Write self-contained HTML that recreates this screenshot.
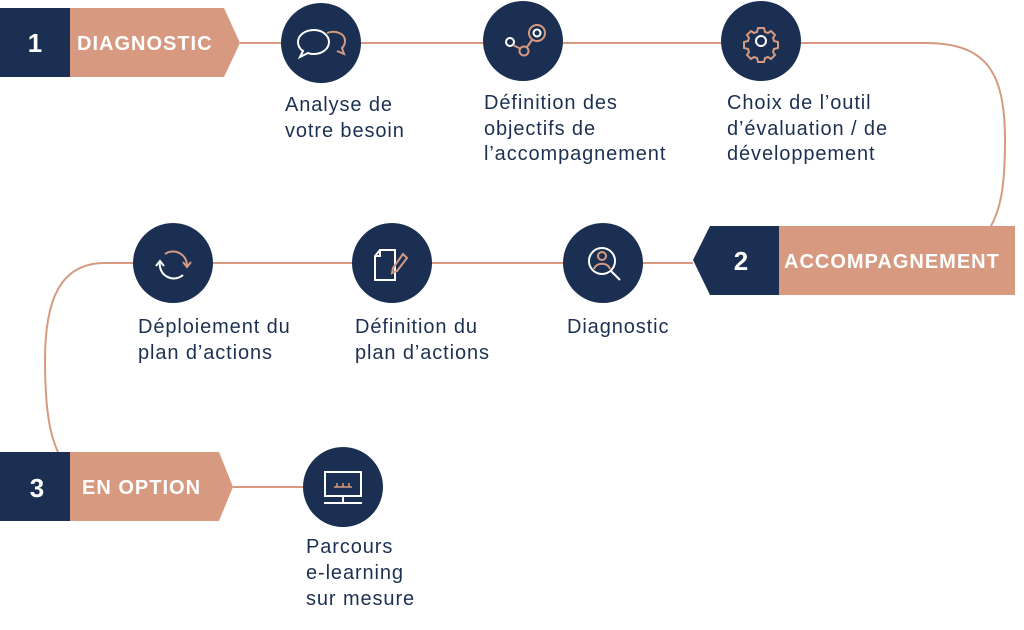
<!DOCTYPE html>
<html><head><meta charset="utf-8"><style>
html,body{margin:0;padding:0;background:#fff;}
svg{display:block}
text{font-family:"Liberation Sans",sans-serif}
.lbl{font-size:20px;fill:#1c3152;letter-spacing:0.9px}
.hd{font-size:20px;font-weight:bold;fill:#fff;letter-spacing:1px}
.num{font-size:26px;font-weight:bold;fill:#fff}
</style></head><body>
<svg width="1024" height="630" viewBox="0 0 1024 630" xmlns="http://www.w3.org/2000/svg">
<g fill="none" stroke="#d79a80" stroke-width="2">
<path d="M240 43 H925 C985 43 1005 70 1005 140 C1005 190 1000 210 990 228"/>
<path d="M693 263 H105 C60 263 45 300 45 360 C45 410 50 435 58 452"/>
<path d="M233 487 H305"/>
</g>
<rect x="0" y="8" width="70" height="69" fill="#1a2f52"/>
<polygon points="70,8 224,8 240,43 224,77 70,77" fill="#d79a80"/>
<text x="35" y="52" class="num" text-anchor="middle">1</text>
<text x="77" y="50" class="hd">DIAGNOSTIC</text>
<polygon points="710,226 779,226 779,295 710,295 693,260" fill="#1a2f52"/>
<rect x="779" y="226" width="236" height="69" fill="#d79a80"/>
<text x="741" y="270" class="num" text-anchor="middle">2</text>
<text x="784" y="268" class="hd">ACCOMPAGNEMENT</text>
<rect x="0" y="452" width="70" height="69" fill="#1a2f52"/>
<polygon points="70,452 219,452 233,487 219,521 70,521" fill="#d79a80"/>
<text x="37" y="497" class="num" text-anchor="middle">3</text>
<text x="82" y="494" class="hd">EN OPTION</text>
<g fill="#1a2f52">
<circle cx="321" cy="43" r="40"/>
<circle cx="523" cy="41" r="40"/>
<circle cx="761" cy="41" r="40"/>
<circle cx="603" cy="263" r="40"/>
<circle cx="392" cy="263" r="40"/>
<circle cx="173" cy="263" r="40"/>
<circle cx="343" cy="487" r="40"/>
</g>
<g fill="none" stroke-width="2">
<path d="M327 33 c8 -3 18 0 18 8 c0 3 -1 5 -3 7 l2 6 -7 -3" stroke="#d79a80"/>
<path d="M314 30 c-10 0 -16 6 -16 12 c0 4 2 7 5 9 l-3 6 8 -4 c2 1 4 1 6 1 c9 0 15 -6 15 -12 c0 -6 -6 -12 -15 -12z" stroke="#fff"/>
<circle cx="510" cy="42" r="4" stroke="#fff"/>
<circle cx="537" cy="33" r="8" stroke="#d79a80"/>
<circle cx="537" cy="33" r="3.5" stroke="#fff"/>
<circle cx="524" cy="51" r="4.5" stroke="#d79a80"/>
<path d="M513 45 l8 4 M527 47 l5 -7" stroke="#d79a80"/>
<circle cx="761" cy="41" r="5" stroke="#fff"/>
<path d="M758 28 h6 l1 4 3 1 3-2 4 4 -2 3 1 3 4 1 v6 l-4 1 -1 3 2 3 -4 4 -3-2 -3 1 -1 4 h-6 l-1-4 -3-1 -3 2 -4-4 2-3 -1-3 -4-1 v-6 l4-1 1-3 -2-3 4-4 3 2 3-1z" stroke="#d79a80"/>
<circle cx="602" cy="261" r="13" stroke="#fff"/>
<path d="M611 271 l9 9" stroke="#fff"/>
<circle cx="602" cy="256" r="4" stroke="#d79a80"/>
<path d="M594 269 c2-7 14-7 16 0" stroke="#d79a80"/>
<path d="M380 250 h15 v30 h-20 v-24z M375 256 h5 v-6" stroke="#fff"/>
<path d="M403 254 l4 4 -10 13 -5 2 1-5z" stroke="#d79a80"/>
<path d="M165 254 a14 14 0 0 1 22 12" stroke="#d79a80"/>
<path d="M183 262 l4 5 4-5" stroke="#d79a80"/>
<path d="M160 262 a14 14 0 0 0 23 13" stroke="#fff"/>
<path d="M156 266 l4-5 4 5" stroke="#fff"/>
<rect x="325" y="472" width="36" height="24" stroke="#fff"/>
<path d="M343 496 v6 M324 503 h38" stroke="#fff"/>
<path d="M334 487 h18 M337 487 v-4 M343 487 v-4 M349 487 v-4" stroke="#d79a80" stroke-width="1.5"/>
</g>
<text class="lbl"><tspan x="285" y="111">Analyse de</tspan><tspan x="285" y="137">votre besoin</tspan></text>
<text class="lbl"><tspan x="484" y="109">Définition des</tspan><tspan x="484" y="135">objectifs de</tspan><tspan x="484" y="160">l’accompagnement</tspan></text>
<text class="lbl"><tspan x="727" y="109">Choix de l’outil</tspan><tspan x="727" y="135">d’évaluation / de</tspan><tspan x="727" y="160">développement</tspan></text>
<text class="lbl"><tspan x="138" y="333">Déploiement du</tspan><tspan x="138" y="359">plan d’actions</tspan></text>
<text class="lbl"><tspan x="355" y="333">Définition du</tspan><tspan x="355" y="359">plan d’actions</tspan></text>
<text class="lbl"><tspan x="567" y="333">Diagnostic</tspan></text>
<text class="lbl"><tspan x="306" y="553">Parcours</tspan><tspan x="306" y="579">e-learning</tspan><tspan x="306" y="605">sur mesure</tspan></text>
</svg>
</body></html>
